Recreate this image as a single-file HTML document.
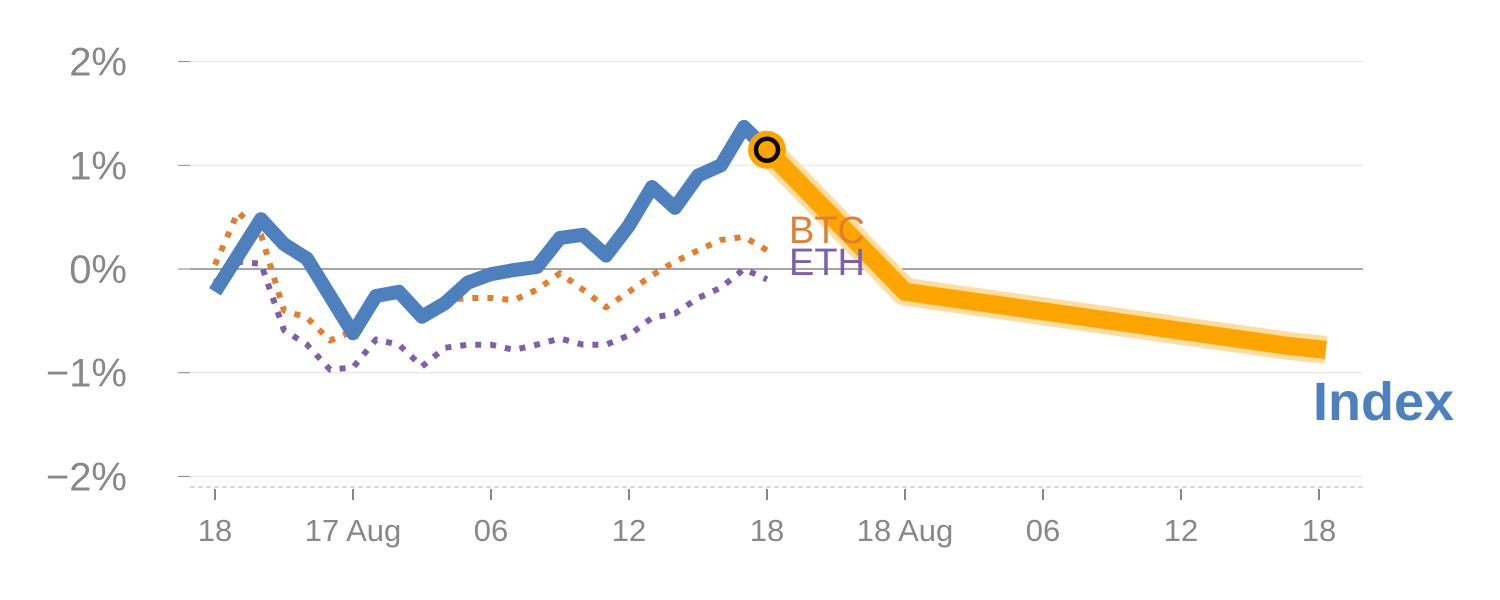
<!DOCTYPE html>
<html><head><meta charset="utf-8"><style>
body{margin:0;background:#fff}
svg{display:block;font-family:"Liberation Sans",Arial,sans-serif}
</style></head><body>
<svg id="chart" width="1500" height="600"></svg>
<script>
const hours=[0,1,2,3,4,5,6,7,8,9,10,11,12,13,14,15,16,17,18,19,20,21,22,23,24];
const indexVals=[-0.22,0.13,0.48,0.24,0.1,-0.26,-0.62,-0.26,-0.22,-0.46,-0.33,-0.13,-0.05,-0.01,0.02,0.3,0.33,0.13,0.42,0.79,0.59,0.9,1.0,1.37,1.15];
const btcVals=[0.04,0.55,0.33,-0.4,-0.47,-0.69,-0.6,-0.26,-0.2,-0.44,-0.3,-0.28,-0.28,-0.3,-0.2,-0.04,-0.2,-0.37,-0.22,-0.06,0.07,0.18,0.28,0.31,0.18];
const ethVals=[-0.13,0.07,0.05,-0.59,-0.73,-0.97,-0.95,-0.68,-0.73,-0.94,-0.76,-0.73,-0.73,-0.78,-0.73,-0.67,-0.73,-0.73,-0.64,-0.47,-0.43,-0.28,-0.18,0.0,-0.1];
const fcHours=[24,30,46.6,48.3];
const fcVals=[1.15,-0.22,-0.74,-0.78];
const yTicks=[2,1,0,-1,-2];
const yTickLabels=["2%","1%","0%","\u22121%","\u22122%"];
const xTicks=[0,6,12,18,24,30,36,42,48];
const xTickLabels=["18","17 Aug","06","12","18","18 Aug","06","12","18"];

const NS="http://www.w3.org/2000/svg";
const svg=document.getElementById('chart');
const X=h=>215+23*h;
const Y=v=>269-103.7*v;
function el(t,a,txt){const e=document.createElementNS(NS,t);for(const k in a)e.setAttribute(k,a[k]);if(txt!==undefined)e.textContent=txt;svg.appendChild(e);return e;}

yTicks.forEach((v,i)=>{
  const g=el('line',{x1:190,x2:1363,y1:Y(v),y2:Y(v),stroke:v===0?'#888':'#e2e2e2','stroke-width':v===0?1.5:1});
  
  
  const tk=el('line',{x1:178,x2:190,y1:Y(v),y2:Y(v),stroke:'#888','stroke-width':1});
  
  
  const t=el('text',{x:127,y:Y(v)+14,'text-anchor':'end','font-size':40,fill:'#888'},yTickLabels[i]);
  
  
});
const ax=el('line',{x1:190,x2:1363,y1:487,y2:487,stroke:'#ccc','stroke-width':1.5,'stroke-dasharray':'5,3'});


xTicks.forEach((h,i)=>{
  const tk=el('line',{x1:X(h),x2:X(h),y1:489,y2:500,stroke:'#888','stroke-width':2});
  
  
  const t=el('text',{x:X(h),y:541,'text-anchor':'middle','font-size':31,fill:'#888'},xTickLabels[i]);
  
  
});
const pts=(hs,vs)=>hs.map((h,i)=>X(h)+','+Y(vs[i])).join(' ');
const eth=el('polyline',{points:pts(hours,ethVals),fill:'none',stroke:'#7f60a8','stroke-width':6,'stroke-dasharray':'6,9','stroke-linejoin':'round'});


const btc=el('polyline',{points:pts(hours,btcVals),fill:'none',stroke:'#e07f32','stroke-width':6,'stroke-dasharray':'6,9','stroke-linejoin':'round'});


const idx=el('polyline',{points:pts(hours,indexVals),fill:'none',stroke:'#4e80bd','stroke-width':14,'stroke-linejoin':'round'});


const fh=el('polyline',{points:pts(fcHours,fcVals),fill:'none',stroke:'#ffdca0','stroke-width':28,'stroke-linejoin':'round'});


const fc=el('polyline',{points:pts(fcHours,fcVals),fill:'none',stroke:'#ffa500','stroke-width':18,'stroke-linejoin':'round'});


const mk=el('circle',{cx:X(24),cy:Y(1.15),r:19,fill:'#ffa500'});


const mk2=el('circle',{cx:X(24),cy:Y(1.15),r:11,fill:'none',stroke:'#000','stroke-width':4.5});


const lb=el('text',{x:789,y:243,'font-size':38,fill:'#e07f32'},'BTC');


const le=el('text',{x:789,y:275,'font-size':38,fill:'#7f60a8'},'ETH');


const li=el('text',{x:1313,y:420,'font-size':54,'font-weight':'bold',fill:'#4e80bd'},'Index');


</script>
</body></html>
